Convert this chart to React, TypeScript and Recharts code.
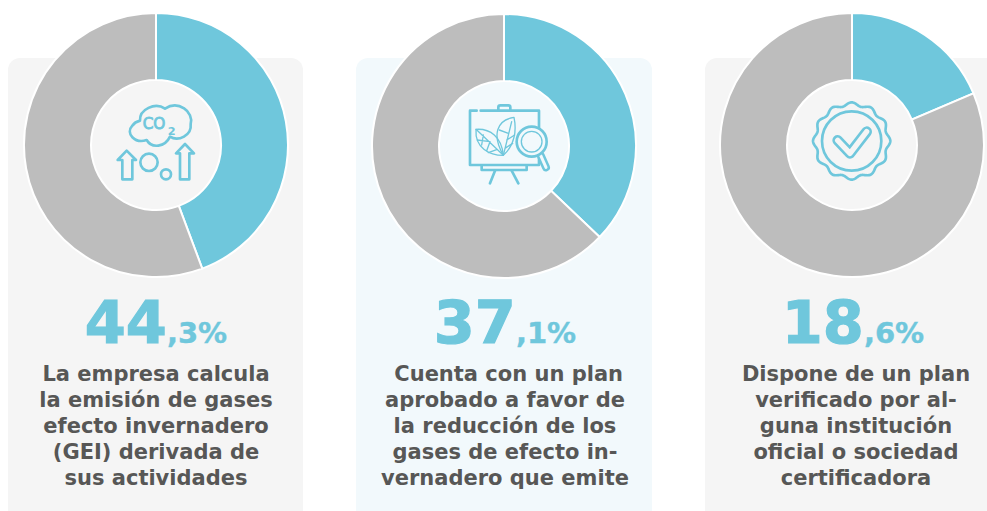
import { PieChart, Pie, Cell } from 'recharts';

const TEAL = '#6FC7DC';
const GREY = '#BDBDBD';
const TEXT_COLOR = '#575756';
const FONT = '"DejaVu Sans", Verdana, sans-serif';

const categories = ['Sí', 'No'];
const valuesGei = [44.3, 55.7];
const valuesPlan = [37.1, 62.9];
const valuesVerified = [18.6, 81.4];
const sliceColors = [TEAL, GREY];

const bigNumbers = ['44', '37', '18'];
const smallNumbers = [',3%', ',1%', ',6%'];

const linesGei = ['La empresa calcula', 'la emisión de gases', 'efecto invernadero', '(GEI) derivada de', 'sus actividades'];
const linesPlan = [' Cuenta con un plan', 'aprobado a favor de', 'la reducción de los', 'gases de efecto in-', 'vernadero que emite'];
const linesVerified = ['Dispone de un plan', 'verificado por al-', 'guna institución', 'oficial o sociedad', 'certificadora'];

const iconLine = { fill: 'none', stroke: TEAL, strokeWidth: 8, strokeLinecap: 'round', strokeLinejoin: 'round' } as const;
const thinLine = { ...iconLine, strokeWidth: 4 };

const Co2Icon = () => (
  <svg width={130} height={130} viewBox="0 0 390 390">
    <path {...iconLine} d="M150 122C148 88 195 66 225 86C265 60 312 95 302 132C306 166 265 186 240 170C225 202 185 206 170 180C135 192 105 160 127 137C133 128 142 124 150 122Z" />
    <text x={158} y={148} fontFamily={FONT} fontSize={46} fill={TEAL} stroke={TEAL} strokeWidth={2.5}>CO</text>
    <text x={233} y={166} fontFamily={FONT} fontSize={34} fontWeight="bold" fill={TEAL}>2</text>
    <path {...iconLine} d="M110 212L83 240H97V298H127V240H138Z" />
    <path {...iconLine} d="M285 192L258 220H270V298H298V220H312Z" />
    <circle {...iconLine} cx={177} cy={247} r={26} />
    <circle {...iconLine} cx={228} cy={283} r={15} />
  </svg>
);

const PlanIcon = () => (
  <svg width={130} height={130} viewBox="0 0 390 390">
    <path {...iconLine} d="M122 92H297V150M297 225V255H90V92H110" />
    <path {...iconLine} d="M175 90V82Q175 76 181 76H205Q211 76 211 82V90" />
    <path {...iconLine} d="M125 256V270H260V256" />
    <path {...iconLine} d="M165 272L150 310M215 272L235 310" />
    <path d="M302 226L318 262" fill="none" stroke={TEAL} strokeWidth={24} strokeLinecap="round" />
    <path d="M302 226L318 262" fill="none" stroke="#F2F9FC" strokeWidth={9} strokeLinecap="round" />
    <circle cx={275} cy={185} r={45} fill="#F2F9FC" stroke={TEAL} strokeWidth={8} />
    <circle {...thinLine} cx={275} cy={185} r={31} />
    <path {...thinLine} d="M108 148C150 145 185 170 190 226C150 226 104 205 108 148Z" />
    <path {...thinLine} d="M222 112C170 120 155 165 190 226C225 195 230 150 222 112Z" />
    <path {...thinLine} d="M108 148L190 226M130 165L125 195M150 185L140 212M150 185L112 180M172 208L145 218M215 125L190 226M205 160L178 150M200 180L224 165M195 205L218 190" />
  </svg>
);

// scalloped badge outline, 12 lobes round the same centre as the inner ring
const badgePath = () => {
  const pts: string[] = [];
  for (let i = 0; i <= 240; i += 1) {
    const a = (i / 240) * Math.PI * 2;
    const r = 111 + 5 * Math.cos(12 * a);
    const x = 200 + r * Math.sin(a);
    const y = 183 - r * Math.cos(a);
    pts.push(`${i === 0 ? 'M' : 'L'}${x.toFixed(1)} ${y.toFixed(1)}`);
  }
  return `${pts.join('')}Z`;
};

const BadgeIcon = () => (
  <svg width={130} height={130} viewBox="0 0 390 390">
    <path {...iconLine} d={badgePath()} />
    <circle {...iconLine} cx={200} cy={183} r={89} />
    <path d="M158 181L195 220L245 155" fill="none" stroke={TEAL} strokeWidth={32} strokeLinecap="round" strokeLinejoin="round" />
    <path d="M158 181L195 220L245 155" fill="none" stroke="#F5F5F5" strokeWidth={16} strokeLinecap="round" strokeLinejoin="round" />
  </svg>
);

interface PanelProps {
  values: number[];
  cardLeft: number;
  cardWidth: number;
  cardColor: string;
  cx: number;
  cy: number;
  iconLeft: number;
  numberCenter: number;
  textCenter: number;
  big: string;
  small: string;
  lines: string[];
  icon: React.ReactNode;
}

const Panel = ({ values, cardLeft, cardWidth, cardColor, cx, cy, iconLeft, numberCenter, textCenter, big, small, lines, icon }: PanelProps) => {
  const data = categories.map((name, i) => ({ name, value: values[i] }));
  return (
    <>
      <div style={{ position: 'absolute', left: cardLeft, top: 58, width: cardWidth, height: 470, background: cardColor, borderRadius: 12 }} />
      <div style={{ position: 'absolute', left: cx - 140, top: cy - 140 }}>
        <PieChart width={280} height={280} margin={{ top: 0, right: 0, bottom: 0, left: 0 }}>
          <Pie
            data={data}
            dataKey="value"
            cx={140}
            cy={140}
            innerRadius={65}
            outerRadius={132}
            startAngle={90}
            endAngle={-270}
            stroke="#FFFFFF"
            strokeWidth={2}
            isAnimationActive={false}
          >
            {data.map((d, i) => (
              <Cell key={d.name} fill={sliceColors[i]} />
            ))}
          </Pie>
        </PieChart>
      </div>
      <div style={{ position: 'absolute', left: iconLeft, top: 80, width: 130, height: 130 }}>{icon}</div>
      <div style={{ position: 'absolute', left: numberCenter - 140, width: 280, top: 288, height: 70, lineHeight: '70px', textAlign: 'center', color: TEAL, fontWeight: 'bold', whiteSpace: 'nowrap' }}>
        <span style={{ fontSize: 59, WebkitTextStroke: `1.2px ${TEAL}` }}>{big}</span>
        <span style={{ fontSize: 29, WebkitTextStroke: `0.4px ${TEAL}` }}>{small}</span>
      </div>
      <div style={{ position: 'absolute', left: textCenter - 150, width: 300, top: 361, textAlign: 'center', color: TEXT_COLOR, fontWeight: 'bold', fontSize: 21, lineHeight: '26px', whiteSpace: 'pre' }}>
        {lines.map((line) => (
          <div key={line}>{line}</div>
        ))}
      </div>
    </>
  );
};

export default function App() {
  return (
    <div style={{ position: 'fixed', left: 0, top: 0, width: 987, height: 511, overflow: 'hidden', background: '#FFFFFF', fontFamily: FONT }}>
      <Panel values={valuesGei} cardLeft={8} cardWidth={295} cardColor="#F5F5F5" cx={155.5} cy={145} iconLeft={90} numberCenter={156} textCenter={156} big={bigNumbers[0]} small={smallNumbers[0]} lines={linesGei} icon={<Co2Icon />} />
      <Panel values={valuesPlan} cardLeft={356} cardWidth={296} cardColor="#F2F9FC" cx={504} cy={146} iconLeft={440} numberCenter={505} textCenter={505} big={bigNumbers[1]} small={smallNumbers[1]} lines={linesPlan} icon={<PlanIcon />} />
      <Panel values={valuesVerified} cardLeft={705} cardWidth={300} cardColor="#F5F5F5" cx={852} cy={145} iconLeft={785} numberCenter={853} textCenter={856} big={bigNumbers[2]} small={smallNumbers[2]} lines={linesVerified} icon={<BadgeIcon />} />
    </div>
  );
}
